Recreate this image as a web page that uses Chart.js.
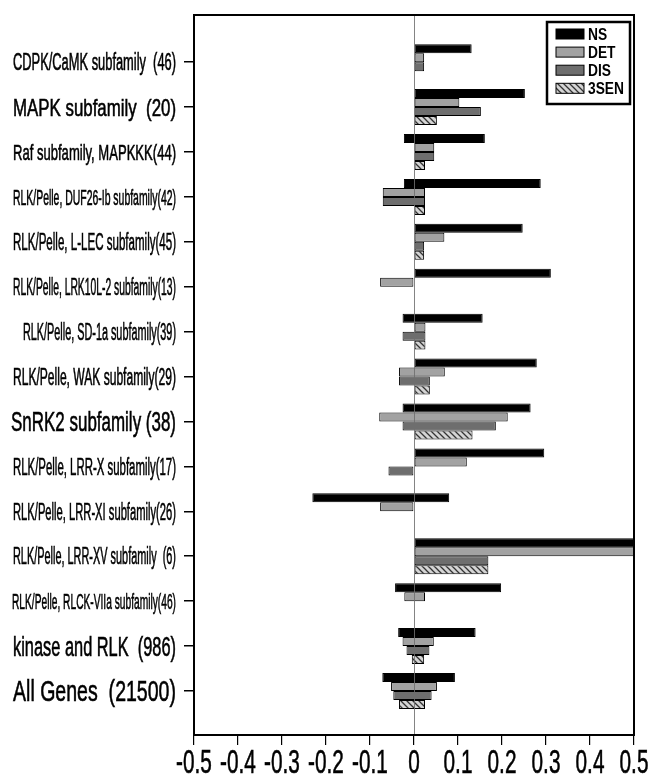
<!DOCTYPE html>
<html>
<head>
<meta charset="utf-8">
<script src="https://cdn.jsdelivr.net/npm/chart.js@4.4.1/dist/chart.umd.min.js"></script>
<style>
  html, body { margin: 0; padding: 0; background: #fff; }
  #wrap { width: 652px; height: 776px; position: relative; }
</style>
</head>
<body>
<div id="wrap"><canvas id="chart"></canvas></div>
<script>
// Categories, top to bottom
const categories = [
  "CDPK/CaMK subfamily  (46)",
  "MAPK subfamily  (20)",
  "Raf subfamily, MAPKKK(44)",
  "RLK/Pelle, DUF26-Ib subfamily(42)",
  "RLK/Pelle, L-LEC subfamily(45)",
  "RLK/Pelle, LRK10L-2 subfamily(13)",
  "RLK/Pelle, SD-1a subfamily(39)",
  "RLK/Pelle, WAK subfamily(29)",
  "SnRK2 subfamily (38)",
  "RLK/Pelle, LRR-X subfamily(17)",
  "RLK/Pelle, LRR-XI subfamily(26)",
  "RLK/Pelle, LRR-XV subfamily  (6)",
  "RLK/Pelle, RLCK-VIIa subfamily(46)",
  "kinase and RLK  (986)",
  "All Genes  (21500)"
];

const seriesNames = ["NS", "DET", "DIS", "3SEN"];

// each bar runs from a low to a high value
const nsLow   = [0, 0, -0.023, -0.023, 0, 0, -0.026, 0, -0.026, 0, -0.231, 0, -0.043, -0.036, -0.072];
const nsHigh  = [0.131, 0.252, 0.161, 0.288, 0.247, 0.311, 0.156, 0.279, 0.265, 0.296, 0.080, 0.5, 0.198, 0.140, 0.093];
const detLow  = [0, 0, 0, -0.071, 0, -0.077, 0, -0.034, -0.079, 0, -0.077, 0, -0.022, -0.026, -0.052];
const detHigh = [0.023, 0.103, 0.046, 0.025, 0.069, 0, 0.026, 0.070, 0.213, 0.120, 0, 0.5, 0.025, 0.045, 0.052];
const disLow  = [0, 0, 0, -0.071, 0, 0, -0.026, -0.034, -0.026, -0.058, 0, 0, 0, -0.017, -0.047];
const disHigh = [0.023, 0.152, 0.046, 0.025, 0.023, 0, 0.026, 0.036, 0.186, 0, 0, 0.169, 0, 0.035, 0.040];
const senLow  = [0, 0, 0, 0, 0, 0, 0, 0, 0, 0, 0, 0, 0, -0.005, -0.034];
const senHigh = [0, 0.052, 0.025, 0.025, 0.023, 0, 0.026, 0.036, 0.133, 0, 0, 0.169, 0, 0.023, 0.025];

const xTicks = [-0.5, -0.4, -0.3, -0.2, -0.1, 0, 0.1, 0.2, 0.3, 0.4, 0.5];

// label font sizes (px) and room for each label
const labelSizes = [23, 24, 22, 22, 23, 23, 23, 23, 27, 23, 23, 23, 22, 27, 29];
const labelRoom  = [163, 163, 163, 163, 163, 163, 153, 163, 165, 163, 163, 163, 164, 163, 163];

const FONT = '"Liberation Sans", Arial, sans-serif';

// hatch for 3SEN
function makeHatch() {
  const c = document.createElement("canvas");
  c.width = 6; c.height = 6;
  const g = c.getContext("2d");
  g.fillStyle = "#d4d4d4";
  g.fillRect(0, 0, 6, 6);
  g.strokeStyle = "#333";
  g.lineWidth = 1.3;
  g.beginPath();
  g.moveTo(0, 0); g.lineTo(6, 6);
  g.moveTo(-1, 5); g.lineTo(1, 7);
  g.moveTo(5, -1); g.lineTo(7, 1);
  g.stroke();
  return g.createPattern(c, "repeat");
}

function bars(lo, hi) {
  return categories
    .map((_, i) => ({ y: i, x: [lo[i], hi[i]] }))
    .filter((d) => d.x[0] !== d.x[1]);
}

function squish(ctx, text, x, y, size, bold, sx, align, heavy) {
  ctx.save();
  ctx.font = (bold ? "bold " : "") + size + "px " + FONT;
  ctx.translate(x, y);
  ctx.scale(sx, 1);
  ctx.textAlign = align;
  ctx.textBaseline = "alphabetic";
  ctx.fillStyle = "#000";
  ctx.fillText(text, 0, 0);
  if (heavy) {
    ctx.strokeStyle = "#000";
    ctx.lineWidth = heavy;
    ctx.strokeText(text, 0, 0);
  }
  ctx.restore();
}

const decor = {
  id: "decor",
  afterDatasetsDraw(chart) {
    // zero line shows through the bars
    const ctx = chart.ctx;
    const a = chart.chartArea;
    const x0 = Math.round(chart.scales.x.getPixelForValue(0)) + 0.5;
    ctx.save();
    ctx.strokeStyle = "rgba(110,110,110,0.85)";
    ctx.lineWidth = 1;
    ctx.beginPath();
    ctx.moveTo(x0, a.top);
    ctx.lineTo(x0, a.bottom);
    ctx.stroke();
    ctx.restore();
  },
  afterDraw(chart) {
    const ctx = chart.ctx;
    const a = chart.chartArea;
    const yScale = chart.scales.y;
    const xScale = chart.scales.x;

    // frame
    ctx.save();
    ctx.strokeStyle = "#000";
    ctx.lineWidth = 2;
    ctx.strokeRect(a.left, a.top, a.right - a.left, a.bottom - a.top);
    ctx.restore();

    // category labels, squeezed to fit
    categories.forEach((label, i) => {
      const size = labelSizes[i];
      ctx.save();
      ctx.font = size + "px " + FONT;
      const w = ctx.measureText(label).width;
      ctx.restore();
      const sx = Math.min(1, labelRoom[i] / w);
      const y = yScale.getPixelForValue(i) + size * 0.358;
      squish(ctx, label, a.left - 18, y, size, false, sx, "right", 0.6);
    });

    // x tick labels, tall and narrow
    xTicks.forEach((v) => {
      const txt = Math.abs(v) < 1e-9 ? "0" : v.toFixed(1);
      squish(ctx, txt, xScale.getPixelForValue(v), a.bottom + 38, 33, false, 0.63, "center", 0.6);
    });

    // legend box
    const bx = a.right - 87, by = a.top + 7, bw = 83, bh = 82;
    ctx.save();
    ctx.fillStyle = "#fff";
    ctx.fillRect(bx, by, bw, bh);
    ctx.strokeStyle = "#000";
    ctx.lineWidth = 2.5;
    ctx.strokeRect(bx, by, bw, bh);
    chart.data.datasets.forEach((ds, i) => {
      const sy = by + 7 + i * 18.1;
      ctx.fillStyle = ds.backgroundColor;
      ctx.fillRect(bx + 9, sy, 28, 10);
      ctx.lineWidth = 1;
      ctx.strokeStyle = "#000";
      ctx.strokeRect(bx + 9, sy, 28, 10);
      squish(ctx, ds.label, bx + 41, sy + 11, 16, true, 0.86, "left");
    });
    ctx.restore();
  }
};

const hatch = makeHatch();

new Chart(document.getElementById("chart"), {
  type: "bar",
  data: {
    datasets: [
      { label: seriesNames[0], data: bars(nsLow, nsHigh), backgroundColor: "#000" },
      { label: seriesNames[1], data: bars(detLow, detHigh), backgroundColor: "#a2a2a2" },
      { label: seriesNames[2], data: bars(disLow, disHigh), backgroundColor: "#6e6e6e" },
      { label: seriesNames[3], data: bars(senLow, senHigh), backgroundColor: hatch }
    ]
  },
  options: {
    indexAxis: "y",
    responsive: true,
    maintainAspectRatio: false,
    animation: false,
    layout: { padding: { top: 15, right: 18, left: 0, bottom: 0 } },
    datasets: {
      bar: {
        borderColor: "#000",
        borderWidth: 1,
        borderSkipped: false,
        categoryPercentage: 0.8,
        barPercentage: 1.0
      }
    },
    plugins: {
      legend: { display: false },
      tooltip: { enabled: false }
    },
    scales: {
      x: {
        type: "linear",
        min: -0.5,
        max: 0.5,
        offset: false,
        afterBuildTicks: (s) => { s.ticks = xTicks.map((v) => ({ value: v })); },
        afterFit: (s) => { s.height = 41; },
        ticks: { display: false },
        border: { display: false },
        grid: {
          offset: false,
          drawOnChartArea: false,
          drawTicks: true,
          tickLength: 10,
          tickColor: "#000",
          lineWidth: 1.2
        }
      },
      y: {
        type: "linear",
        reverse: true,
        offset: false,
        min: -1.05,
        max: 14.98,
        afterBuildTicks: (s) => { s.ticks = categories.map((_, i) => ({ value: i })); },
        afterFit: (s) => { s.width = 194; },
        ticks: { display: false },
        border: { display: false },
        grid: {
          offset: false,
          drawOnChartArea: false,
          drawTicks: true,
          tickLength: 10,
          tickColor: "#000",
          lineWidth: 1.5
        }
      }
    }
  },
  plugins: [decor]
});
</script>
</body>
</html>
